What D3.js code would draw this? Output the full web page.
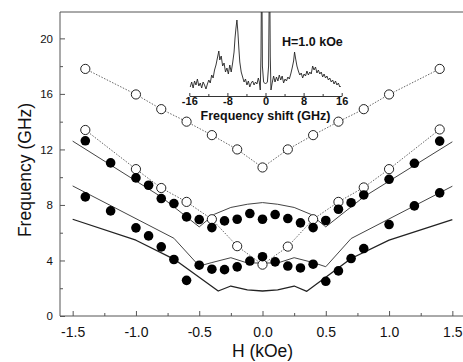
<!DOCTYPE html>
<html>
<head>
<meta charset="utf-8">
<script src="https://cdn.jsdelivr.net/npm/d3@7"></script>
<style>
  html, body { margin: 0; padding: 0; background: #fff; }
  svg { display: block; font-family: Arial, "Liberation Sans", Helvetica, sans-serif; }
</style>
</head>
<body>
<svg id="chart" width="463" height="362"></svg>
<script>
// field (kOe) and frequencies (GHz)
const openUpperH = [-1.4, -1.0, -0.8, -0.6, -0.4, -0.2, 0, 0.2, 0.4, 0.6, 0.8, 1.0, 1.4];
const openUpperF = [17.8, 15.96, 14.9, 14.0, 13.03, 12.0, 10.7, 12.0, 13.03, 14.0, 14.9, 15.96, 17.8];

const openLowerH = [-1.4, -1.0, -0.8, -0.6, -0.4, -0.2, 0, 0.2, 0.4, 0.6, 0.8, 1.0, 1.4];
const openLowerF = [13.4, 10.58, 9.22, 8.22, 6.97, 5.03, 3.7, 5.0, 6.97, 8.22, 9.26, 10.58, 13.44];

const fillUpperH = [-1.4, -1.2, -1.0, -0.9, -0.8, -0.7, -0.6, -0.5, -0.4, -0.3, -0.2, -0.1, 0, 0.1, 0.2, 0.3, 0.4, 0.5, 0.6, 0.7, 0.8, 1.0, 1.2, 1.4];
const fillUpperF = [12.62, 11.03, 9.95, 9.42, 8.46, 8.1, 7.14, 6.95, 6.37, 6.85, 6.97, 7.38, 6.97, 7.31, 7.02, 6.71, 6.37, 6.88, 7.69, 8.16, 8.72, 9.85, 11.0, 12.6];

const fillLowerH = [-1.4, -1.2, -1.0, -0.9, -0.8, -0.7, -0.6, -0.5, -0.4, -0.3, -0.2, -0.1, 0, 0.1, 0.2, 0.3, 0.4, 0.5, 0.6, 0.7, 0.8, 1.0, 1.2, 1.4];
const fillLowerF = [8.58, 7.57, 6.35, 5.77, 4.98, 4.07, 2.57, 3.66, 3.37, 3.34, 3.54, 3.96, 4.27, 3.9, 3.6, 3.46, 3.73, 2.5, 3.25, 4.14, 4.86, 6.59, 7.93, 8.87];

// calculated curves (solid lines)
const calcUpperH = [-1.5, -0.8, -0.5, -0.38, -0.25, -0.12, 0, 0.12, 0.25, 0.38, 0.5, 0.8, 1.5];
const calcUpperF = [12.6, 8.58, 6.42, 7.33, 7.82, 8.05, 8.17, 8.05, 7.82, 7.33, 6.42, 8.58, 12.55];

const calcMidH = [-1.5, -0.7, -0.5, -0.4, -0.25, -0.12, 0, 0.12, 0.25, 0.4, 0.5, 0.7, 1.5];
const calcMidF = [9.37, 5.6, 3.6, 3.85, 4.2, 3.82, 3.82, 3.82, 4.2, 3.85, 3.55, 5.58, 9.35];

const calcLowH = [-1.5, -1.0, -0.7, -0.35, -0.25, -0.12, 0, 0.12, 0.25, 0.35, 0.7, 1.0, 1.5];
const calcLowF = [6.97, 5.46, 4.1, 1.8, 2.16, 1.88, 1.8, 1.88, 2.16, 1.78, 4.14, 5.46, 6.95];

const xTicks = [-1.5, -1.0, -0.5, 0.0, 0.5, 1.0, 1.5];
const yTicks = [0, 4, 8, 12, 16, 20];

// inset spectrum at H = 1.0 kOe (frequency shift in GHz, intensity in arb. units)
const specShift = [-15.8, -15.5, -15.2, -14.9, -14.6, -14.3, -14.0, -13.7, -13.4, -13.1, -12.8, -12.5, -12.2, -11.9, -11.6, -11.3, -11.0, -10.7, -10.4, -10.1, -9.8, -9.6, -9.3, -9.0, -8.7, -8.4, -8.1, -7.8, -7.5, -7.2, -6.9, -6.6, -6.4, -6.2, -6.0, -5.8, -5.6, -5.4, -5.1, -4.8, -4.5, -4.2, -3.9, -3.6, -3.3, -3.0, -2.7, -2.4, -2.1, -1.8, -1.5, -1.3, -1.1, -0.95, -0.85, -0.75, -0.65, -0.4, 0, 0.4, 0.65, 0.8, 0.9, 1.0, 1.15, 1.4, 1.7, 2.0, 2.3, 2.6, 2.9, 3.2, 3.5, 3.8, 4.1, 4.4, 4.7, 5.0, 5.3, 5.6, 5.9, 6.1, 6.3, 6.6, 6.9, 7.2, 7.5, 7.8, 8.1, 8.4, 8.7, 9.0, 9.3, 9.6, 9.9, 10.2, 10.5, 10.8, 11.1, 11.4, 11.7, 12.0, 12.3, 12.6, 12.9, 13.2, 13.5, 13.8, 14.1, 14.4, 14.7, 15.0, 15.3, 15.6, 15.8];
const specInt = [9, 14, 8, 15, 11, 17, 10, 13, 8, 14, 11, 7, 12, 16, 13, 21, 18, 26, 31, 38, 45, 36, 40, 30, 33, 24, 28, 22, 31, 24, 33, 44, 58, 68, 76, 64, 48, 34, 24, 19, 14, 17, 11, 15, 9, 13, 15, 11, 14, 12, 18, 14, 6, 40, 110, 110, 30, 14, 12, 14, 30, 110, 110, 40, 6, 13, 20, 14, 19, 15, 21, 16, 20, 13, 17, 15, 19, 17, 22, 28, 35, 44, 38, 30, 25, 21, 23, 18, 22, 20, 25, 21, 24, 22, 30, 26, 29, 23, 26, 22, 24, 19, 22, 18, 20, 16, 18, 14, 16, 12, 15, 11, 13, 9, 10];
const insetTicks = [-16, -8, 0, 8, 16];
const insetLabel = 'H=1.0 kOe';

const W = 463, H = 362;
const margin = { left: 60, top: 12, right: -2, bottom: 46 };

const svg = d3.select('#chart');
const x = d3.scaleLinear().domain([-1.6, 1.6]).range([margin.left, W - margin.right]);
const y = d3.scaleLinear().domain([0, 21.9]).range([H - margin.bottom, margin.top]);

svg.append('defs').append('clipPath').attr('id', 'plotClip')
  .append('rect')
  .attr('x', margin.left).attr('y', margin.top)
  .attr('width', W - margin.right - margin.left)
  .attr('height', H - margin.bottom - margin.top);

// frame: left + bottom axes, top line
svg.append('line')
  .attr('x1', margin.left).attr('x2', W)
  .attr('y1', margin.top).attr('y2', margin.top)
  .attr('stroke', '#555').attr('stroke-width', 1);

const xAxis = svg.append('g')
  .attr('transform', `translate(0,${H - margin.bottom})`)
  .call(d3.axisBottom(x).tickValues(xTicks).tickSizeInner(-5).tickSizeOuter(0).tickPadding(11)
    .tickFormat(d3.format('.1f')));
xAxis.select('.domain').remove();
xAxis.append('line')
  .attr('x1', margin.left).attr('x2', W)
  .attr('stroke', '#555');
xAxis.selectAll('.tick line').attr('stroke', '#555');
xAxis.selectAll('.tick text').attr('font-size', 14).attr('fill', '#111')
  .text(d => d3.format('.1f')(d).replace('−', '-'));

svg.append('g')
  .attr('transform', `translate(0,${H - margin.bottom})`)
  .call(d3.axisBottom(x).tickValues(d3.range(-1.25, 1.6, 0.5)).tickSizeInner(-3).tickSizeOuter(0).tickFormat(''))
  .call(g => g.select('.domain').remove())
  .selectAll('line').attr('stroke', '#555');

const yAxis = svg.append('g')
  .attr('transform', `translate(${margin.left},0)`)
  .call(d3.axisLeft(y).tickValues(yTicks).tickSizeInner(-5).tickSizeOuter(0).tickPadding(7));
yAxis.select('.domain').remove();
yAxis.append('line')
  .attr('y1', margin.top).attr('y2', H - margin.bottom)
  .attr('stroke', '#555');
yAxis.selectAll('.tick line').attr('stroke', '#555');
yAxis.selectAll('.tick text').attr('font-size', 11.5).attr('fill', '#111');

svg.append('g')
  .attr('transform', `translate(${margin.left},0)`)
  .call(d3.axisLeft(y).tickValues([2, 6, 10, 14, 18]).tickSizeInner(-3).tickSizeOuter(0).tickFormat(''))
  .call(g => g.select('.domain').remove())
  .selectAll('line').attr('stroke', '#555');

// axis titles
svg.append('text')
  .attr('transform', `translate(31,${(margin.top + H - margin.bottom) / 2 + 6}) rotate(-90)`)
  .attr('text-anchor', 'middle')
  .attr('font-size', 17.5)
  .attr('fill', '#111')
  .text('Frequency (GHz)');

svg.append('text')
  .attr('x', x(0)).attr('y', 357)
  .attr('text-anchor', 'middle')
  .attr('font-size', 17.5)
  .attr('fill', '#111')
  .text('H (kOe)');

// inset spectrum
const ix = d3.scaleLinear().domain([-16, 16]).range([189.3, 341.7]);
const iy = d3.scaleLinear().domain([0, 100]).range([96, -4]);
const inset = svg.append('g').attr('clip-path', 'url(#plotClip)');
inset.append('path')
  .datum(specShift.map((s, i) => [s, specInt[i]]))
  .attr('fill', 'none')
  .attr('stroke', '#222')
  .attr('stroke-width', 0.9)
  .attr('stroke-linejoin', 'round')
  .attr('d', d3.line().x(d => ix(d[0])).y(d => iy(d[1])));

const insetAxis = svg.append('g')
  .attr('transform', `translate(0,${iy(0)})`)
  .call(d3.axisBottom(ix).tickValues(insetTicks).tickSizeInner(-3).tickSizeOuter(0).tickPadding(1));
insetAxis.select('.domain').attr('stroke', '#333');
insetAxis.selectAll('.tick line').attr('stroke', '#333');
insetAxis.selectAll('.tick text')
  .attr('font-size', 11).attr('font-weight', 'bold').attr('fill', '#111')
  .text(d => String(d));
svg.append('g')
  .attr('transform', `translate(0,${iy(0)})`)
  .call(d3.axisBottom(ix).tickValues([-12, -4, 4, 12]).tickSizeInner(-2).tickSizeOuter(0).tickFormat(''))
  .call(g => g.select('.domain').remove())
  .selectAll('line').attr('stroke', '#333');

svg.append('text')
  .attr('x', ix(0)).attr('y', 120)
  .attr('text-anchor', 'middle')
  .attr('font-size', 12.5).attr('font-weight', 'bold').attr('fill', '#111')
  .text('Frequency shift (GHz)');

svg.append('text')
  .attr('x', 282).attr('y', 46)
  .attr('font-size', 12.5).attr('font-weight', 'bold').attr('fill', '#111')
  .text(insetLabel);

// main plot marks
const plot = svg.append('g').attr('clip-path', 'url(#plotClip)');
const line = d3.line().x(d => x(d[0])).y(d => y(d[1]));
const zip = (a, b) => a.map((v, i) => [v, b[i]]);

// dotted connectors through open circles
[[openUpperH, openUpperF], [openLowerH, openLowerF]].forEach(([h, f]) => {
  plot.append('path')
    .datum(zip(h, f))
    .attr('fill', 'none')
    .attr('stroke', '#666')
    .attr('stroke-width', 1)
    .attr('stroke-dasharray', '1.5 1.5')
    .attr('d', line);
});

// calculated curves
[[calcUpperH, calcUpperF, 1], [calcMidH, calcMidF, 1], [calcLowH, calcLowF, 1.3]].forEach(([h, f, sw]) => {
  plot.append('path')
    .datum(zip(h, f))
    .attr('fill', 'none')
    .attr('stroke', sw > 1 ? '#222' : '#444')
    .attr('stroke-width', sw)
    .attr('stroke-linejoin', 'round')
    .attr('d', line);
});

// open circles
[[openUpperH, openUpperF], [openLowerH, openLowerF]].forEach(([h, f]) => {
  plot.append('g').selectAll('circle')
    .data(zip(h, f))
    .join('circle')
    .attr('cx', d => x(d[0]))
    .attr('cy', d => y(d[1]))
    .attr('r', 4.6)
    .attr('fill', '#fff')
    .attr('stroke', '#222')
    .attr('stroke-width', 1);
});

// filled circles
[[fillUpperH, fillUpperF], [fillLowerH, fillLowerF]].forEach(([h, f]) => {
  plot.append('g').selectAll('circle')
    .data(zip(h, f))
    .join('circle')
    .attr('cx', d => x(d[0]))
    .attr('cy', d => y(d[1]))
    .attr('r', 4.8)
    .attr('fill', '#000');
});
</script>
</body>
</html>
